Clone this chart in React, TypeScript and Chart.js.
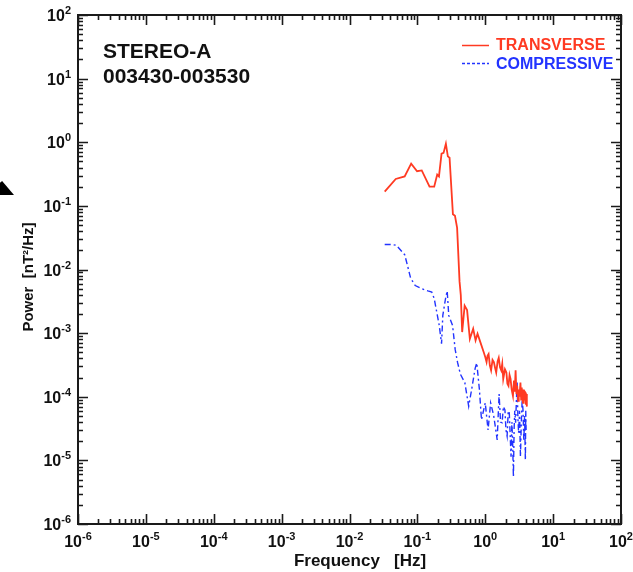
import React, { useEffect, useRef } from 'react';
import { Chart, registerables } from 'chart.js';

Chart.register(...registerables);

const W = 633;
const H = 572;
const PLOT_LEFT = 78;
const PLOT_RIGHT = 621;
const PLOT_TOP = 15;
const PLOT_BOTTOM = 524;

const FONT = '"Liberation Sans", Arial, Helvetica, sans-serif';
const RED = '#ff3a22';
const BLUE = '#2233ff';

const X_EXPONENTS = [-6, -5, -4, -3, -2, -1, 0, 1, 2];
const Y_EXPONENTS = [-6, -5, -4, -3, -2, -1, 0, 1, 2];

const TITLE_LINE1 = 'STEREO-A';
const TITLE_LINE2 = '003430-003530';
const LEGEND_T = 'TRANSVERSE';
const LEGEND_C = 'COMPRESSIVE';
const X_TITLE = 'Frequency   [Hz]';
const Y_TITLE = 'Power  [nT\u00B2/Hz]';

const FREQ_T = [
  0.033, 0.048, 0.065, 0.081, 0.099, 0.116, 0.151, 0.177, 0.196, 0.208, 0.227, 0.243,
  0.263, 0.281, 0.298, 0.334, 0.358, 0.385, 0.418, 0.436, 0.457, 0.497, 0.54, 0.593,
  0.664, 0.72, 0.77, 0.83, 0.95, 1.0, 1.045, 1.08, 1.12, 1.17, 1.22, 1.28, 1.34, 1.4,
  1.45, 1.52, 1.58, 1.65, 1.72, 1.78, 1.84, 1.95, 2.05, 2.12, 2.2, 2.28, 2.36, 2.45,
  2.56, 2.65, 2.72, 2.8, 2.88, 2.95, 3.05, 3.12, 3.2, 3.3, 3.38, 3.45, 3.52, 3.6,
  3.68, 3.75, 3.82, 3.9, 3.97, 4.05, 4.1,
];
const POW_T = [
  0.167, 0.265, 0.29, 0.46, 0.35, 0.36, 0.2, 0.2, 0.31, 0.29, 0.66, 0.68,
  0.95, 0.6, 0.57, 0.074, 0.07, 0.045, 0.0065, 0.004, 0.00104, 0.0027, 0.0023, 0.00081,
  0.00117, 0.00077, 0.00098, 0.00077, 0.0005, 0.00042, 0.00035, 0.00044, 0.00047, 0.00031, 0.00026, 0.00038, 0.00035, 0.00028,
  0.00024, 0.00036, 0.00041, 0.00029, 0.00026, 0.00033, 0.00019, 0.00027, 0.00024, 0.00016, 0.000148, 0.00022, 0.00019, 0.00013,
  0.000103, 0.00018, 0.00012, 0.00026, 0.00011, 0.00015, 0.000086, 0.00013, 0.0001, 0.000167, 0.00009, 0.00014, 0.000095, 0.00008,
  0.00013, 0.00009, 0.00012, 0.000116, 0.000075, 0.00011, 0.00007,
];

const FREQ_C = [
  0.033, 0.042, 0.049, 0.065, 0.071, 0.0795, 0.093, 0.116, 0.143, 0.163, 0.177, 0.21,
  0.227, 0.237, 0.26, 0.275, 0.29, 0.33, 0.36, 0.39, 0.43, 0.5, 0.57, 0.63,
  0.71, 0.75, 0.82, 0.88, 1.0, 1.1, 1.2, 1.33, 1.5, 1.55, 1.6, 1.68, 1.77, 1.85,
  1.95, 2.02, 2.1, 2.18, 2.26, 2.33, 2.4, 2.47, 2.53, 2.6, 2.66, 2.72, 2.8, 2.88,
  2.95, 3.02, 3.1, 3.2, 3.3, 3.4, 3.5, 3.6, 3.7, 3.8, 3.9, 3.95, 4.0,
];
const POW_C = [
  0.0247, 0.0247, 0.024, 0.0171, 0.0119, 0.0073, 0.0056, 0.005, 0.0046, 0.0044, 0.0035, 0.00132,
  0.00068, 0.0019, 0.0035, 0.0046, 0.0019, 0.00132, 0.00056, 0.00035, 0.000226, 0.000167, 0.000071, 0.00013,
  0.00028, 0.00034, 0.00013, 0.0000436, 0.00008, 0.00003, 0.00008, 0.000051, 0.000021, 0.00005, 0.00011, 0.00004, 0.000039, 0.00007,
  0.0000623, 0.00003, 0.000024, 0.00006, 0.000056, 0.000025, 0.0000114, 0.00004, 0.00002, 0.0000055, 0.00003, 0.00006, 0.000039, 0.00009,
  0.000167, 0.00005, 0.000027, 0.00006, 0.0000114, 0.00004, 0.00009, 0.000062, 0.00002, 0.00005, 0.0000101, 0.00006, 0.00003,
];

const DASH_C = [6, 3, 2, 3];

function drawPow(ctx: CanvasRenderingContext2D, exp: number, x: number, y: number, align: 'center' | 'right') {
  const base = '10';
  const sup = String(exp);
  ctx.font = `bold 16px ${FONT}`;
  const wb = ctx.measureText(base).width;
  ctx.font = `bold 11px ${FONT}`;
  const ws = ctx.measureText(sup).width;
  const total = wb + ws;
  const x0 = align === 'center' ? x - total / 2 : x - total;
  ctx.textAlign = 'left';
  ctx.textBaseline = 'alphabetic';
  ctx.fillStyle = '#111';
  ctx.font = `bold 16px ${FONT}`;
  ctx.fillText(base, x0, y);
  ctx.font = `bold 11px ${FONT}`;
  ctx.fillText(sup, x0 + wb, y - 7);
}

const framePlugin = {
  id: 'idlFrame',
  afterDraw(chart: any) {
    const ctx: CanvasRenderingContext2D = chart.ctx;
    const { left, right, top, bottom } = chart.chartArea;
    const xs = chart.scales.x;
    const ys = chart.scales.y;
    ctx.save();
    ctx.strokeStyle = '#1a1a1a';
    ctx.lineWidth = 1.6;
    ctx.beginPath();
    for (let e = -6; e <= 2; e++) {
      for (let k = 1; k <= 9; k++) {
        const v = k * Math.pow(10, e);
        if (v > 1e2 * 1.0001) break;
        const len = k === 1 ? 10 : 5;
        const px = Math.round(xs.getPixelForValue(v)) + 0.5;
        ctx.moveTo(px, bottom);
        ctx.lineTo(px, bottom - len);
        ctx.moveTo(px, top);
        ctx.lineTo(px, top + len);
        const py = Math.round(ys.getPixelForValue(v)) + 0.5;
        ctx.moveTo(left, py);
        ctx.lineTo(left + len, py);
        ctx.moveTo(right, py);
        ctx.lineTo(right - len, py);
      }
    }
    ctx.stroke();
    ctx.lineWidth = 2;
    ctx.strokeRect(left, top, right - left, bottom - top);

    X_EXPONENTS.forEach((e) => {
      const px = xs.getPixelForValue(Math.pow(10, e));
      drawPow(ctx, e, px, bottom + 23, 'center');
    });
    Y_EXPONENTS.forEach((e) => {
      const py = ys.getPixelForValue(Math.pow(10, e));
      drawPow(ctx, e, left - 7, py + 6, 'right');
    });

    // axis titles
    ctx.fillStyle = '#111';
    ctx.font = `bold 17px ${FONT}`;
    ctx.textAlign = 'center';
    ctx.textBaseline = 'alphabetic';
    ctx.fillText(X_TITLE, 360, 566);
    ctx.save();
    ctx.translate(33, 277);
    ctx.rotate(-Math.PI / 2);
    ctx.font = `bold 15px ${FONT}`;
    ctx.fillText(Y_TITLE, 0, 0);
    ctx.restore();

    // annotation
    ctx.textAlign = 'left';
    ctx.font = `bold 21px ${FONT}`;
    ctx.fillStyle = '#111';
    ctx.fillText(TITLE_LINE1, 103, 58);
    ctx.fillText(TITLE_LINE2, 103, 83);

    // legend
    ctx.lineWidth = 1.5;
    ctx.strokeStyle = RED;
    ctx.beginPath();
    ctx.moveTo(462, 45.5);
    ctx.lineTo(489, 45.5);
    ctx.stroke();
    ctx.strokeStyle = BLUE;
    ctx.setLineDash([3, 2]);
    ctx.beginPath();
    ctx.moveTo(462, 63.5);
    ctx.lineTo(489, 63.5);
    ctx.stroke();
    ctx.setLineDash([]);
    ctx.font = `bold 16px ${FONT}`;
    ctx.fillStyle = RED;
    ctx.fillText(LEGEND_T, 496, 50);
    ctx.fillStyle = BLUE;
    ctx.fillText(LEGEND_C, 496, 69);
    ctx.restore();
  },
};

export default function App() {
  const ref = useRef<HTMLCanvasElement>(null);
  useEffect(() => {
    const chart = new Chart(ref.current as HTMLCanvasElement, {
      type: 'line',
      data: {
        datasets: [
          {
            label: LEGEND_T,
            data: FREQ_T.map((f, i) => ({ x: f, y: POW_T[i] })),
            borderColor: RED,
            borderWidth: 1.8,
            pointRadius: 0,
            tension: 0,
          },
          {
            label: LEGEND_C,
            data: FREQ_C.map((f, i) => ({ x: f, y: POW_C[i] })),
            borderColor: BLUE,
            borderWidth: 1.4,
            borderDash: DASH_C,
            pointRadius: 0,
            tension: 0,
          },
        ],
      },
      options: {
        responsive: false,
        animation: false,
        devicePixelRatio: 1,
        layout: { padding: { left: 0, top: PLOT_TOP, right: W - PLOT_RIGHT, bottom: 0 } },
        plugins: { legend: { display: false }, tooltip: { enabled: false } },
        scales: {
          x: {
            type: 'logarithmic',
            min: 1e-6,
            max: 1e2,
            ticks: { display: false },
            grid: { display: false },
            border: { display: false },
            afterFit: (s: any) => {
              s.height = H - PLOT_BOTTOM;
            },
          },
          y: {
            type: 'logarithmic',
            min: 1e-6,
            max: 1e2,
            ticks: { display: false },
            grid: { display: false },
            border: { display: false },
            afterFit: (s: any) => {
              s.width = PLOT_LEFT;
            },
          },
        },
      },
      plugins: [framePlugin],
    } as any);
    return () => chart.destroy();
  }, []);
  return (
    <div style={{ position: 'absolute', left: 0, top: 0, width: W, height: H, background: '#fff' }}>
      <canvas ref={ref} width={W} height={H} style={{ display: 'block' }} />
      <div
        style={{
          position: 'absolute',
          left: 0,
          top: 181,
          width: 14,
          height: 14,
          background: '#000',
          clipPath: 'polygon(0 12%, 15% 0, 100% 100%, 0 100%)',
        }}
      />
    </div>
  );
}
